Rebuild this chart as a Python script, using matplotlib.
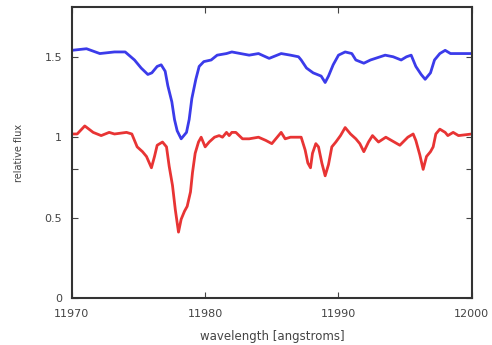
import numpy as np
import matplotlib
matplotlib.use("Agg")
import matplotlib.pyplot as plt

# spectra (wavelength in angstroms, relative flux)
wl_blue = [11970.0, 11971.1, 11972.1, 11973.2, 11973.8, 11974.0, 11974.7, 11975.2,
           11975.7, 11976.0, 11976.4, 11976.7, 11977.0, 11977.2, 11977.5, 11977.7,
           11977.9, 11978.2, 11978.6, 11978.8, 11979.0, 11979.3, 11979.55, 11979.9,
           11980.45, 11980.9, 11981.6, 11982.0, 11983.3, 11984.0, 11984.8, 11985.7,
           11986.4, 11987.0, 11987.2, 11987.6, 11988.1, 11988.7, 11989.0, 11989.25,
           11989.6, 11990.0, 11990.5, 11991.0, 11991.3, 11991.9, 11992.4, 11993.5,
           11994.1, 11994.7, 11995.1, 11995.45, 11995.8, 11996.2, 11996.5, 11996.9,
           11997.2, 11997.6, 11998.0, 11998.4, 11999.1, 12000.0]
flux_blue = [1.54, 1.55, 1.52, 1.53, 1.53, 1.53, 1.48, 1.43,
             1.39, 1.40, 1.44, 1.45, 1.41, 1.32, 1.22, 1.11,
             1.04, 0.99, 1.03, 1.11, 1.24, 1.36, 1.44, 1.47,
             1.48, 1.51, 1.52, 1.53, 1.51, 1.52, 1.49, 1.52,
             1.51, 1.50, 1.48, 1.43, 1.40, 1.38, 1.34, 1.38,
             1.45, 1.51, 1.53, 1.52, 1.48, 1.46, 1.48, 1.51,
             1.50, 1.48, 1.50, 1.51, 1.44, 1.39, 1.36, 1.40,
             1.48, 1.52, 1.54, 1.52, 1.52, 1.52]

wl_red = [11970.0, 11970.4, 11970.97, 11971.6, 11972.2, 11972.8, 11973.2, 11974.1,
          11974.5, 11974.9, 11975.3, 11975.6, 11975.97, 11976.2, 11976.4, 11976.8,
          11977.1, 11977.3, 11977.55, 11977.76, 11978.0, 11978.2, 11978.45, 11978.65,
          11978.9, 11979.05, 11979.25, 11979.5, 11979.7, 11980.0, 11980.3, 11980.7,
          11981.05, 11981.3, 11981.6, 11981.8, 11982.0, 11982.3, 11982.8, 11983.3,
          11984.0, 11984.55, 11985.0, 11985.7, 11986.0, 11986.4, 11986.9, 11987.2,
          11987.5, 11987.7, 11987.9, 11988.05, 11988.3, 11988.5, 11988.75, 11989.0,
          11989.25, 11989.5, 11989.8, 11990.15, 11990.5, 11990.9, 11991.3, 11991.6,
          11991.9, 11992.25, 11992.55, 11993.0, 11993.55, 11994.6, 11995.2, 11995.6,
          11995.8, 11996.1, 11996.35, 11996.6, 11996.9, 11997.1, 11997.3, 11997.6,
          11998.0, 11998.2, 11998.6, 11999.0, 12000.0]
flux_red = [1.02, 1.02, 1.07, 1.03, 1.01, 1.03, 1.02, 1.03,
            1.02, 0.94, 0.91, 0.88, 0.81, 0.88, 0.95, 0.97,
            0.94, 0.82, 0.70, 0.55, 0.41, 0.49, 0.54, 0.57,
            0.66, 0.78, 0.90, 0.97, 1.00, 0.94, 0.97, 1.00,
            1.01, 1.00, 1.03, 1.01, 1.03, 1.03, 0.99, 0.99,
            1.00, 0.98, 0.96, 1.03, 0.99, 1.00, 1.00, 1.00,
            0.92, 0.84, 0.81, 0.90, 0.96, 0.94, 0.84, 0.76,
            0.83, 0.94, 0.97, 1.01, 1.06, 1.02, 0.99, 0.96,
            0.91, 0.97, 1.01, 0.97, 1.00, 0.95, 1.00, 1.02,
            0.98, 0.89, 0.80, 0.88, 0.91, 0.94, 1.02, 1.05,
            1.03, 1.01, 1.03, 1.01, 1.02]

xticks = [11970, 11980, 11990, 12000]
yticks = [0, 0.5, 1, 1.5]
ytick_labels = ["0", "0.5", "1", "1.5"]

fig = plt.figure(figsize=(4.92, 3.45), dpi=100)
ax = fig.add_axes([0.146, 0.136, 0.813, 0.844])

ax.plot(wl_blue, flux_blue, color="#3b3bea", linewidth=2.0, solid_joinstyle="round")
ax.plot(wl_red, flux_red, color="#e83434", linewidth=2.0, solid_joinstyle="round")

ax.set_xlim(11970, 12000)
ax.set_ylim(0, 1.81)
ax.set_xticks(xticks)
ax.set_xticklabels([str(t) for t in xticks])
ax.set_yticks(yticks)
ax.set_yticklabels(ytick_labels)
ax.set_yticks([0.8], minor=True)

ax.tick_params(which="both", direction="in", top=True, right=True,
               length=4, width=0.8, colors="#444444", labelsize=8)
ax.tick_params(axis="x", pad=8)
ax.tick_params(axis="y", pad=7)
for s in ax.spines.values():
    s.set_linewidth(1.5)
    s.set_color("#333333")

ax.set_xlabel("wavelength [angstroms]", fontsize=8.5, color="#444444", labelpad=8)
ax.set_ylabel("relative flux", fontsize=7, color="#444444", labelpad=15)

fig.savefig("out.png", dpi=100)
